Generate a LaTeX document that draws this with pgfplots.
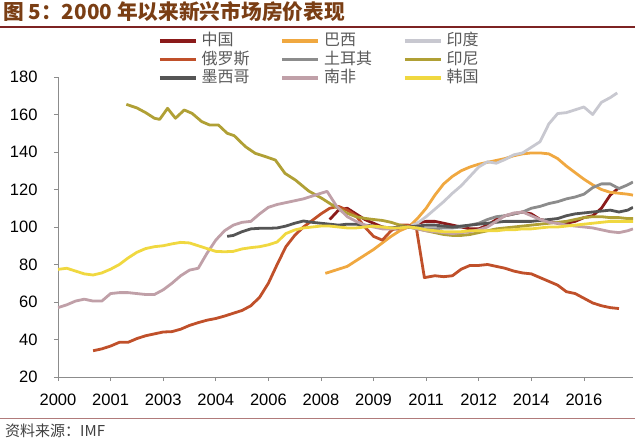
\documentclass[border=0pt]{standalone}
\usepackage{fontspec}
\setmainfont{Liberation Sans}
\newfontfamily\cjk{Noto Sans CJK SC}
\usepackage{pgfplots}
\pgfplotsset{compat=1.18}
\definecolor{cChina}{RGB}{139,26,26}
\definecolor{cBrazil}{RGB}{240,168,64}
\definecolor{cIndia}{RGB}{200,200,208}
\definecolor{cRussia}{RGB}{192,80,42}
\definecolor{cTurkey}{RGB}{140,140,140}
\definecolor{cIndo}{RGB}{176,160,53}
\definecolor{cMexico}{RGB}{85,85,85}
\definecolor{cSA}{RGB}{192,160,168}
\definecolor{cKorea}{RGB}{240,216,64}
\definecolor{titlebrown}{RGB}{122,62,20}
\definecolor{rulered}{RGB}{125,35,35}
\definecolor{axisgray}{RGB}{140,140,140}
\begin{document}
\begin{tikzpicture}
\path[use as bounding box] (0,0) rectangle (635pt,440pt);
\draw[rulered, line width=1.2pt] (0,413pt) -- (635pt,413pt);
\node[anchor=base west, inner sep=0pt, text=titlebrown, font=\cjk\bfseries\fontsize{20.7}{20.7}\selectfont] at (3pt,420pt) {图 5：2000 年以来新兴市场房价表现};
\draw[rulered!60, line width=1pt] (0,22pt) -- (635pt,22pt);
\node[anchor=base west, inner sep=0pt, text=black!75, font=\cjk\fontsize{15}{15}\selectfont] at (5pt,4pt) {资料来源：IMF};
\begin{axis}[
  at={(58pt,63pt)}, anchor=south west, scale only axis,
  width=575pt, height=300pt,
  xmin=0, xmax=65.6, ymin=20, ymax=180,
  axis x line=bottom, axis y line=left,
  axis line style={-, draw=axisgray, line width=0.8pt},
  ytick={20,40,...,180},
  xtick={0,6,...,60},
  xticklabels={2000,2001,2003,2004,2006,2008,2009,2011,2012,2014,2016},
  tick align=outside, major tick length=4pt,
  tick style={axisgray, line width=0.8pt},
  ticklabel style={font=\fontsize{16.5}{16.5}\selectfont},
  yticklabel style={xshift=-13pt},
  xticklabel style={yshift=-9pt},
  /pgf/number format/assume math mode=true,
  every axis plot/.append style={line width=2.8pt, no markers, line join=round},
  legend columns=3,
  legend cell align=left,
  legend style={at={(0.174,1.146)}, anchor=north west, draw=none, fill=none, inner sep=0pt, outer sep=0pt,
    nodes={inner sep=0pt, text height=12.5pt, text depth=3pt, font=\cjk\fontsize{16}{16}\selectfont, text=black!65},
    row sep=3pt,
    /tikz/every odd column/.append style={column sep=4pt},
    /tikz/every even column/.append style={column sep=31pt}},
  legend image code/.code={\draw[#1, line width=3.5pt] (0pt,0pt) -- (36pt,0pt);},
]
% China
\addplot[cChina] coordinates {(31,104)(32,109)(33,110)(34,107)(35,104)(36,102)(37,100)(38,99)(39,99)(40,100)(41,102)(42,103)(43,103)(44,102)(45,101)(46,100)(47,99)(48,99)(49,101)(50,104)(51,106)(52,107)(53,108)(54,107)(55,104)(56,103)(57,102)(58,102)(59,103)(60,105)(61,106)(62,110)(63,117)(64,121)};
\addlegendentry{中国}
% Brazil
\addplot[cBrazil] coordinates {(30.5,75.3)(31,76)(32,77.5)(33,79)(34,82)(35,85)(36,88)(37,91.5)(38,95)(39,98)(40,100)(41,104.5)(42,110)(43,117)(44,123)(45,127)(46,130)(47,132)(48,133.5)(49,134.5)(50,135.5)(51,136.5)(52,138)(53,139)(54,139.5)(55,139.5)(56,139)(57,136.5)(58,132.5)(59,129)(60,125.5)(61,122.5)(62,120)(63,118.5)(64,118)(65,117.5)(65.6,117)};
\addlegendentry{巴西}
% India
\addplot[cIndia] coordinates {(40,100)(41,102)(42,105.5)(43,109.5)(44,113.5)(45,118)(46,122)(47,127)(48,132)(49,134.8)(50,134)(51,136)(52,138.5)(53,139.5)(54,142.5)(55,145.5)(56,155)(57,160.5)(58,161)(59,162.5)(60,164)(61,160)(62,166.5)(63,169)(63.8,171.5)};
\addlegendentry{印度}
% Russia
\addplot[cRussia] coordinates {(4,34)(5,35)(6,36.5)(7,38.5)(8,38.5)(9,40.5)(10,42)(11,43)(12,44)(13,44.2)(14,45.5)(15,47.5)(16,49)(17,50.3)(18,51.2)(19,52.5)(20,54)(21,55.5)(22,58)(23,62.5)(24,70)(25,80)(26,89.5)(27,95.5)(28,100)(29,103.5)(30,107)(31,110)(32,111)(33,109)(34,106)(35,100)(36,95)(37,93)(38,98)(39,101)(40,101)(40.9,99)(41.8,73)(43,74)(44,73.5)(45,74)(46,77.5)(47,79.5)(48,79.5)(49,80)(50,79)(51,78)(52,76.5)(53,75.5)(54,75)(55,73)(56,71)(57,69)(58,65.5)(59,64.5)(60,62)(61,59.5)(62,58)(63,57)(64,56.5)};
\addlegendentry{俄罗斯}
% Turkey
\addplot[cTurkey] coordinates {(40,100)(41,99.5)(42,99)(43,99)(44,99.5)(45,99.5)(46,100)(47,101)(48,102)(49,104)(50,105.5)(51,106)(52,107)(53,108)(54,110)(55,111)(56,112.5)(57,113.5)(58,115)(59,116)(60,117.5)(61,121)(62,123)(63,123)(64,120.5)(65,122.5)(65.6,124)};
\addlegendentry{土耳其}
% Indonesia
\addplot[cIndo] coordinates {(7.8,165.4)(9,163.5)(10,161)(11,158)(11.6,157.4)(12.5,163.3)(13.4,158)(14.4,162.4)(15.3,160.6)(16.4,156.2)(17.3,154.4)(18.3,154.4)(19.3,150)(20.1,148.7)(21.4,142.8)(22.5,139.3)(23.7,137.5)(24.8,135.7)(25.9,128.6)(27.1,125)(28.6,119.2)(30.1,115.3)(31.3,111.7)(32,110)(33,107.3)(34,105.5)(35,104.6)(36,104)(37,103.5)(38,102.5)(39,101)(40,100)(41,99)(42,98)(43,97)(44,96)(45,95.5)(46,95.5)(47,96)(48,97)(49,98)(50,99)(51,99.5)(52,100)(53,100.5)(54,101)(55,101.5)(56,102)(57,102.5)(58,103)(59,104)(60,105)(61,105.5)(62,105.5)(63,105)(64,105)(65,104.5)(65.6,104.5)};
\addlegendentry{印尼}
% Mexico
\addplot[cMexico] coordinates {(19.3,95)(20,95.5)(21,97.5)(22,99)(23,99.3)(24,99.3)(25,99.5)(26,100.5)(27,102)(28,103.2)(29,102.5)(30,102)(31,101.5)(32,101)(33,101.5)(34,101.5)(35,101)(36,100.5)(37,100)(38,99.5)(39,100)(40,100)(41,100.5)(42,101)(43,101)(44,100.5)(45,100)(46,100.5)(47,101)(48,101.5)(49,102)(50,102.5)(51,103)(52,103)(53,103)(54,103)(55,103.5)(56,104)(57,104.5)(58,106)(59,107)(60,107.5)(61,108)(62,108.5)(63,109)(64,108)(65,109)(65.6,110.5)};
\addlegendentry{墨西哥}
% South Africa
\addplot[cSA] coordinates {(0,57)(1,58.5)(2,60.5)(3,61.5)(4,60.5)(5,60.5)(6,64.5)(7,65)(8,65)(9,64.5)(10,64)(11,64)(12,66.5)(13,70)(14,74)(15,77)(16,78)(17,86)(18,93)(19,98)(20,101)(21,102.5)(22,103)(23,107)(24,110.5)(25,112)(26,113)(27,114)(28,115)(29,116.5)(30,118)(30.7,119)(31.8,111)(33,105.5)(34,103)(35,101)(36,100)(37,99)(38,99)(39,99.5)(40,100)(41,99)(42,98)(43,97.5)(44,97)(45,96.5)(46,97)(47,97.5)(48,98.5)(49,100)(50,103)(51,106)(52,107.5)(53,108)(54,106)(55,104)(56,102.5)(57,102)(58,101)(59,100.5)(60,100)(61,99.5)(62,98.5)(63,97.5)(64,97)(65,98)(65.6,99)};
\addlegendentry{南非}
% Korea
\addplot[cKorea] coordinates {(0,77.4)(1,78)(2,76.5)(3,75)(4,74.4)(5,75.5)(6,77.5)(7,80)(8,83.5)(9,86.5)(10,88.5)(11,89.5)(12,90)(13,91)(14,91.8)(15,91.5)(16,90)(17,88.5)(18,87)(19,86.8)(20,87)(21,88.3)(22,89)(23,89.5)(24,90.5)(25,92)(26,96.5)(27,98.4)(28,99.5)(29,100)(30,100.5)(31,100.5)(32,100)(33,99.5)(34,99.5)(35,100)(36,100.5)(37,100)(38,99.5)(39,99.5)(40,100)(41,99.5)(42,98.5)(43,98)(44,97.5)(45,97.5)(46,97.5)(47,98)(48,98)(49,98)(50,98)(51,98.5)(52,98.5)(53,99)(54,99)(55,99.5)(56,100)(57,100)(58,100.5)(59,101)(60,101.5)(61,102)(62,102.5)(63,103)(64,103)(65,103)(65.6,103)};
\addlegendentry{韩国}
\end{axis}
\end{tikzpicture}
\end{document}
